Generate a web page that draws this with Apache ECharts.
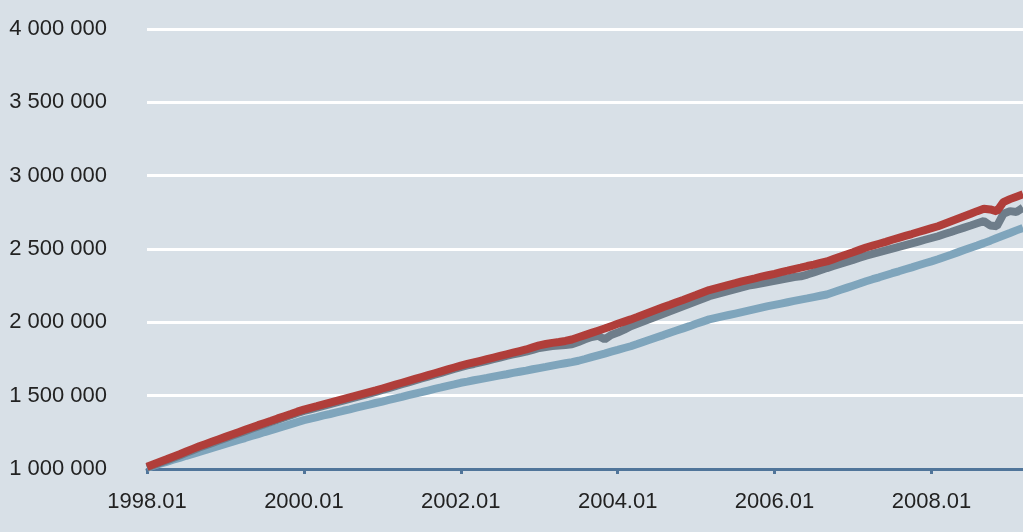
<!DOCTYPE html>
<html>
<head>
<meta charset="utf-8">
<script src="https://cdn.jsdelivr.net/npm/echarts@6/dist/echarts.min.js"></script>
<style>
html,body{margin:0;padding:0;background:#d8e0e7;}
#c{width:1023px;height:532px;}
</style>
</head>
<body>
<div id="c"></div>
<script>
// Monthly categories 1998.01 .. 2009.03
var categories = [];
for (var y = 1998; y <= 2009; y++) {
  for (var m = 1; m <= 12; m++) {
    if (y === 2009 && m > 3) break;
    categories.push(y + '.' + (m < 10 ? '0' + m : m));
  }
}
// values in thousands
var redSeries = [
1015,1032,1049,1066,1084,1101,1119,1137,1155,1171,1187,1203,
1219,1235,1251,1267,1283,1299,1314,1329,1345,1360,1375,1391,
1405,1417,1428,1440,1452,1464,1476,1488,1500,1512,1524,1536,
1549,1562,1575,1588,1601,1614,1627,1640,1653,1666,1679,1692,
1705,1716,1727,1738,1749,1760,1771,1782,1793,1804,1815,1829,
1843,1852,1860,1866,1873,1883,1898,1913,1928,1943,1958,1974,
1990,2005,2020,2036,2053,2070,2087,2104,2120,2137,2153,2170,
2186,2203,2220,2232,2244,2256,2267,2279,2290,2300,2311,2321,
2331,2342,2352,2363,2373,2384,2394,2405,2415,2431,2447,2463,
2478,2494,2510,2523,2536,2549,2563,2576,2589,2602,2616,2629,
2642,2655,2672,2689,2706,2723,2740,2758,2775,2770,2757,2820,
2840,2857,2873
];
var graySeries = [
1010,1026,1042,1058,1075,1092,1110,1128,1146,1162,1178,1194,
1210,1226,1242,1258,1274,1290,1305,1320,1336,1351,1366,1382,
1396,1407,1418,1430,1442,1454,1466,1478,1490,1502,1514,1526,
1539,1552,1565,1578,1591,1604,1617,1630,1643,1656,1669,1682,
1695,1706,1716,1727,1738,1749,1760,1771,1781,1791,1800,1812,
1825,1832,1838,1842,1846,1850,1866,1884,1900,1908,1884,1914,
1930,1950,1973,1990,2007,2024,2041,2058,2075,2092,2109,2126,
2143,2160,2178,2190,2202,2214,2226,2238,2250,2258,2266,2275,
2283,2292,2300,2309,2314,2326,2340,2355,2370,2384,2398,2412,
2426,2441,2455,2467,2479,2491,2503,2515,2527,2539,2551,2563,
2575,2587,2602,2616,2631,2646,2660,2675,2690,2660,2655,2740,
2758,2752,2782
];
var blueSeries = [
1008,1022,1036,1049,1063,1076,1090,1103,1117,1130,1144,1157,
1171,1184,1198,1211,1225,1238,1252,1265,1279,1292,1306,1320,
1333,1344,1354,1365,1375,1386,1397,1407,1418,1429,1439,1450,
1460,1471,1482,1492,1503,1514,1524,1535,1546,1556,1567,1577,
1588,1596,1605,1613,1621,1630,1638,1646,1655,1663,1671,1680,
1688,1696,1705,1713,1721,1729,1738,1750,1763,1775,1787,1800,
1812,1825,1837,1852,1868,1883,1898,1913,1929,1944,1959,1974,
1990,2005,2020,2030,2040,2050,2060,2070,2080,2090,2100,2110,
2119,2128,2137,2146,2155,2163,2172,2181,2190,2205,2220,2235,
2250,2265,2280,2294,2307,2321,2335,2348,2362,2375,2389,2403,
2416,2430,2446,2461,2477,2493,2509,2524,2540,2557,2575,2592,
2609,2627,2644
];
var yTicks = { min: 1000, max: 4000, interval: 500 };

function fmt(v) {
  return String(Math.round(v * 1000)).replace(/\B(?=(\d{3})+(?!\d))/g, ' ');
}

var chart = echarts.init(document.getElementById('c'));
var axisColor = '#50759a';
var font = 'Liberation Sans';
chart.setOption({
  animation: false,
  backgroundColor: '#d8e0e7',
  grid: { left: 147, right: 0, top: 29, bottom: 63, containLabel: false },
  xAxis: {
    type: 'category',
    data: categories,
    boundaryGap: false,
    axisLine: { show: true, lineStyle: { color: axisColor, width: 3 } },
    axisTick: { show: true, interval: 23, length: 5, lineStyle: { color: axisColor, width: 3 } },
    axisLabel: { interval: 23, margin: 22, color: '#222', fontSize: 22, fontFamily: font },
    splitLine: { show: false }
  },
  yAxis: {
    type: 'value',
    min: yTicks.min, max: yTicks.max, interval: yTicks.interval,
    axisLine: { show: false },
    axisTick: { show: false },
    axisLabel: { margin: 40, color: '#222', fontSize: 22, fontFamily: font, formatter: fmt },
    splitLine: { show: true, lineStyle: { color: '#ffffff', width: 3 } }
  },
  series: [
    { type: 'line', data: blueSeries, showSymbol: false, symbol: 'none', lineStyle: { color: '#7fa5bc', width: 8 }, z: 2 },
    { type: 'line', data: graySeries, showSymbol: false, symbol: 'none', lineStyle: { color: '#6e7d8a', width: 8 }, z: 3 },
    { type: 'line', data: redSeries, showSymbol: false, symbol: 'none', lineStyle: { color: '#b03e3a', width: 8 }, z: 4 }
  ]
});
</script>
</body>
</html>
